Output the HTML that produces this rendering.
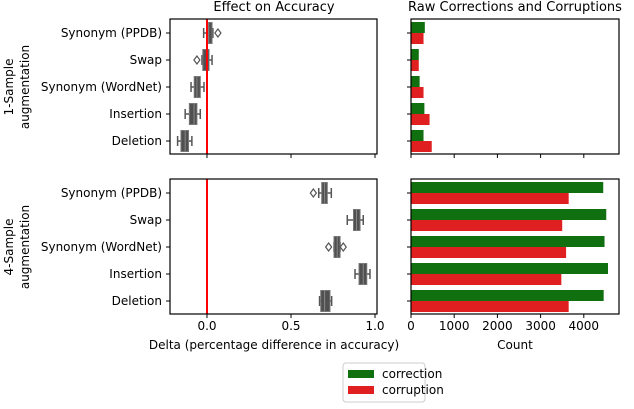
<!DOCTYPE html>
<html><head><meta charset="utf-8"><style>
body{margin:0;background:#fff;}
svg text{font-family:"DejaVu Sans","Liberation Sans",sans-serif;fill:#000;}
</style></head><body>
<svg id="c" width="634" height="404" xmlns="http://www.w3.org/2000/svg"></svg>
<script>
const categories=["Synonym (PPDB)","Swap","Synonym (WordNet)","Insertion","Deletion"];
// box stats [whiskerLow, q1, median, q3, whiskerHigh]
const box1=[[-0.02,0.0,0.01,0.03,0.035],[-0.03,-0.025,0.0,0.012,0.03],[-0.095,-0.076,-0.06,-0.04,-0.018],[-0.13,-0.105,-0.077,-0.06,-0.04],[-0.175,-0.155,-0.13,-0.11,-0.09]];
const out1=[[0.065],[-0.06],[],[],[]];
const box4=[[0.665,0.683,0.70,0.716,0.74],[0.835,0.872,0.89,0.911,0.93],[0.756,0.756,0.775,0.792,0.792],[0.881,0.905,0.93,0.951,0.97],[0.67,0.677,0.70,0.732,0.742]];
const out4=[[0.633],[],[0.724,0.811],[],[]];
const corr1=[320,180,200,310,290];
const corrupt1=[290,180,290,430,480];
const corr4=[4450,4520,4480,4560,4460];
const corrupt4=[3650,3500,3590,3480,3650];
const deltaTicks=[0,0.5,1.0];
const countTicks=[0,1000,2000,3000,4000];

const svg=document.getElementById('c');
const NS="http://www.w3.org/2000/svg";
function mk(t,a,p){const e=document.createElementNS(NS,t);for(const k in a)e.setAttribute(k,a[k]);(p||svg).appendChild(e);return e;}
function txt(s,x,y,a,p){const e=mk('text',Object.assign({x:x,y:y,'font-size':12},a),p);e.textContent=s;return e;}
const L={x0:170,x1:377},R={x0:411,x1:619};
const panels=[{y0:19,y1:154},{y0:179,y1:314}];
const dx=v=>207+v*168;
const cx=v=>411+v*0.0432;
const catY=(p,i)=>panels[p].y0+14+i*27;

function frame(x0,x1,p,name){mk('rect',{x:x0,y:panels[p].y0,width:x1-x0,height:panels[p].y1-panels[p].y0,fill:'none',stroke:'#000','stroke-width':1.2,});}

[0,1].forEach(p=>{
 const boxes=p?box4:box1, outs=p?out4:out1;
 const g=mk('g',{});
 
 
 categories.forEach((c,i)=>{
  const y=catY(p,i),h=21;
  const b=boxes[i];
  const bg=mk('g',{},g);
  
  
  mk('line',{x1:dx(b[0]),x2:dx(b[1]),y1:y,y2:y,stroke:'#555','stroke-width':1.5},bg);
  mk('line',{x1:dx(b[3]),x2:dx(b[4]),y1:y,y2:y,stroke:'#555','stroke-width':1.5},bg);
  mk('line',{x1:dx(b[0]),x2:dx(b[0]),y1:y-5,y2:y+5,stroke:'#555','stroke-width':1.5},bg);
  mk('line',{x1:dx(b[4]),x2:dx(b[4]),y1:y-5,y2:y+5,stroke:'#555','stroke-width':1.5},bg);
  mk('rect',{x:dx(b[1]),y:y-h/2,width:Math.max(2,dx(b[3])-dx(b[1])),height:h,fill:'#505050',stroke:'#777','stroke-width':1},bg);
  mk('line',{x1:dx(b[2]),x2:dx(b[2]),y1:y-h/2,y2:y+h/2,stroke:'#888','stroke-width':1},bg);
  outs[i].forEach(o=>{mk('path',{d:`M${dx(o)-3},${y} L${dx(o)},${y-4} L${dx(o)+3},${y} L${dx(o)},${y+4}Z`,fill:'none',stroke:'#555','stroke-width':1.2},bg);});
  mk('line',{x1:L.x0-4,x2:L.x0,y1:y,y2:y,stroke:'#000'});
  txt(c,L.x0-8,y+4,{'text-anchor':'end'});
  mk('line',{x1:R.x0-4,x2:R.x0,y1:y,y2:y,stroke:'#000'});
  const a=p?corr4:corr1, r=p?corrupt4:corrupt1;
  const r1=mk('rect',{x:cx(0),y:y-11,width:cx(a[i])-cx(0),height:11,fill:'#107010'});
  
  
  const r2=mk('rect',{x:cx(0),y:y,width:cx(r[i])-cx(0),height:11,fill:'#e02020'});
  
  
 });
 mk('line',{x1:dx(0),x2:dx(0),y1:panels[p].y0,y2:panels[p].y1,stroke:'#ff0000','stroke-width':2,});
 frame(L.x0,L.x1,p,'delta-axes-'+(p+1));
 frame(R.x0,R.x1,p,'count-axes-'+(p+1));
 deltaTicks.forEach(t=>{mk('line',{x1:dx(t),x2:dx(t),y1:panels[p].y1,y2:panels[p].y1+4,stroke:'#000'});if(p)txt(t.toFixed(1),dx(t),330,{'text-anchor':'middle'});});
 countTicks.forEach(t=>{mk('line',{x1:cx(t),x2:cx(t),y1:panels[p].y1,y2:panels[p].y1+4,stroke:'#000'});if(p)txt(String(t),cx(t),330,{'text-anchor':'middle'});});
});
txt("Effect on Accuracy",274,11,{'text-anchor':'middle','font-size':13,});
txt("Raw Corrections and Corruptions",515,11,{'text-anchor':'middle','font-size':13,});
txt("Delta (percentage difference in accuracy)",274,349,{'text-anchor':'middle',});
txt("Count",515,349,{'text-anchor':'middle',});
[[87,"1-Sample"],[247,"4-Sample"]].forEach(([y,s],k)=>{
 const g=mk('g',{transform:`translate(0,${y}) rotate(-90)`,});
 txt(s,0,13,{'text-anchor':'middle'},g);
 txt("augmentation",0,29,{'text-anchor':'middle'},g);
});
const lg=mk('g',{});
mk('rect',{x:343,y:363,width:82,height:39,rx:3,fill:'#fff',stroke:'#ccc'},lg);
mk('rect',{x:348,y:370,width:26,height:8,fill:'#107010',},lg);
mk('rect',{x:348,y:386,width:26,height:8,fill:'#e02020',},lg);
txt("correction",382,378,{},lg);
txt("corruption",382,394,{},lg);
</script>
</body></html>
